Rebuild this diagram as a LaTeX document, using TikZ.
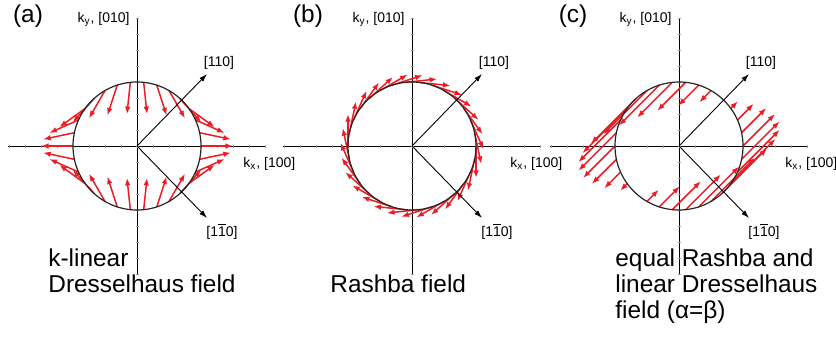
\documentclass[tikz,border=0pt]{standalone}
\usepackage{fontspec}
\setmainfont{Liberation Sans}
\usetikzlibrary{arrows.meta,calc}
\definecolor{fieldRed}{HTML}{EC1C24}
\definecolor{tickGray}{HTML}{A0A0A0}
\newcommand{\barone}{$\overline{\hbox{1}}$}
\tikzset{
  axisline/.style={line width=0.45pt,draw=black},
  kcircle/.style={line width=0.6pt,draw=black!85},
  tickmark/.style={line width=0.25pt,draw=tickGray},
  dirarrow/.style={-{Latex[length=4pt,width=2.6pt]},line width=0.45pt,draw=black},
  fieldarrow/.style={-{Latex[length=3.8pt,width=2.8pt]},line width=0.75pt,draw=fieldRed},
  panellabel/.style={font=\fontsize{12.2}{14}\selectfont,inner sep=0pt},
  axislabel/.style={font=\fontsize{7}{8}\selectfont,inner sep=0pt},
  caption/.style={font=\fontsize{12.2}{14}\selectfont,inner sep=0pt,anchor=base west}
}

\begin{document}
\begin{tikzpicture}[x=0.5pt,y=0.5pt]
  \useasboundingbox (0,0) rectangle (836,339);

  % axes, ticks and labels of the three panels
  \foreach \p/\ox/\kx/\lx in {a/137/106/-109,b/412/98/-104,c/679/106/-106} {
    \begin{scope}[shift={(\ox,193)}]
      \coordinate (O\p) at (0,0);
      \draw[axisline] (-129,0) -- (129,0);
      \draw[axisline] (0,-128) -- (0,128);
      \foreach \i in {-8,...,8} {
        \draw[tickmark] (\i*16,-1.5) -- (\i*16,1.5);
        \draw[tickmark] (-1.5,\i*16) -- (1.5,\i*16);
      }
      \node[panellabel] (tag\p) at (\lx,130) {(\p)};
      \node[axislabel, anchor=base east] (ky\p) at (-7,124) {k\textsubscript{y}, [010]};
      \node[axislabel, anchor=base west] (kx\p) at (\kx,-21) {k\textsubscript{x}, [100]};
    \end{scope}
  }

  % (a) k-linear Dresselhaus field
  \begin{scope}[shift={(137,193)}]
    \foreach \t in {0,12,...,348} {
      \draw[fieldarrow] (\t:64) -- ++({32*cos(\t)},{-32*sin(\t)});
    }
  \end{scope}

  % (b) Rashba field
  \begin{scope}[shift={(412,193)}]
    \foreach \t in {0,12,...,348} {
      \draw[fieldarrow] (\t:64) -- ++({32*sin(\t)},{-32*cos(\t)});
    }
  \end{scope}

  % (c) equal Rashba and Dresselhaus
  \begin{scope}[shift={(679,193)}]
    \foreach \t in {0,12,...,348} {
      \pgfmathsetmacro\dd{32*(cos(\t)-sin(\t))}
      \pgfmathtruncatemacro\keep{abs(\dd)>3}
      \ifnum\keep=1
        \draw[fieldarrow] (\t:64) -- ++(\dd,\dd);
      \fi
    }
  \end{scope}

  % circles and crystal directions
  \foreach \p/\ox in {a/137,b/412,c/679} {
    \begin{scope}[shift={(\ox,193)}]
      \draw[kcircle] (0,0) circle[radius=64];
      \coordinate (tipA\p) at (70,72);
      \coordinate (tipB\p) at (70,-72);
      \draw[dirarrow] (O\p) -- (tipA\p);
      \draw[dirarrow] (O\p) -- (tipB\p);
      \node[axislabel] (dA\p) at (82,83) {[110]};
      \node[axislabel] (dB\p) at (85,-85) {[1\barone0]};
    \end{scope}
  }

  % captions
  \node[caption] (capA1) at (48,73) {k-linear};
  \node[caption] (capA2) at (48,47) {Dresselhaus field};
  \node[caption] (capB1) at (330,47) {Rashba field};
  \node[caption] (capC1) at (615,73) {equal Rashba and};
  \node[caption] (capC2) at (615,47) {linear Dresselhaus};
  \node[caption] (capC3) at (615,21) {field (α=β)};
\end{tikzpicture}
\end{document}
